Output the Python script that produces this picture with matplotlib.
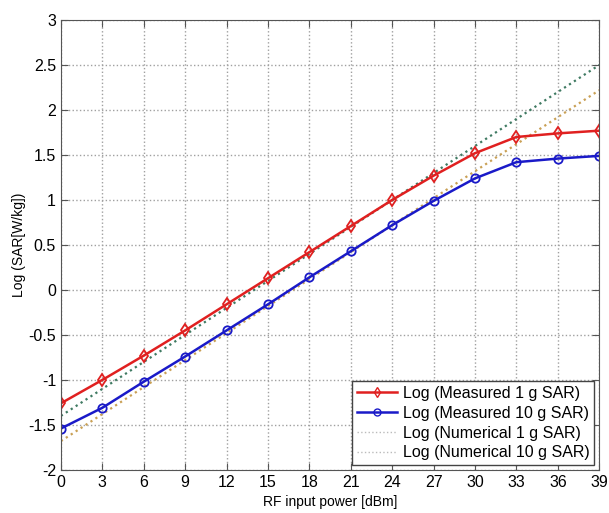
import matplotlib
matplotlib.use("Agg")
import matplotlib.pyplot as plt
from matplotlib.lines import Line2D

plt.rcParams['font.family'] = ['Liberation Sans', 'DejaVu Sans']

power = [0, 3, 6, 9, 12, 15, 18, 21, 24, 27, 30, 33, 36, 39]
meas_1g = [-1.26, -1.00, -0.73, -0.45, -0.16, 0.13, 0.42, 0.71, 1.00, 1.27, 1.52, 1.70, 1.74, 1.77]
meas_10g = [-1.54, -1.31, -1.02, -0.74, -0.45, -0.16, 0.14, 0.43, 0.72, 0.99, 1.24, 1.42, 1.46, 1.49]
num_1g = [-1.40, -1.10, -0.80, -0.50, -0.20, 0.10, 0.40, 0.70, 1.00, 1.30, 1.60, 1.90, 2.20, 2.50]
num_10g = [-1.68, -1.38, -1.08, -0.78, -0.48, -0.18, 0.12, 0.42, 0.72, 1.02, 1.32, 1.62, 1.92, 2.22]

fig = plt.figure(figsize=(6.09, 5.13), dpi=100)
ax = fig.add_axes([0.1, 0.084, 0.884, 0.877])

ax.plot(power, num_1g, ':', color='#3f7a62', lw=1.6)
ax.plot(power, num_10g, ':', color='#c9a055', lw=1.6)
ax.plot(power, meas_1g, '-', color='#e02020', lw=1.8, marker='d', ms=6,
        mfc='none', mec='#e02020', mew=1.3)
ax.plot(power, meas_10g, '-', color='#1a1ac8', lw=1.8, marker='o', ms=6,
        mfc='none', mec='#1a1ac8', mew=1.3)

ax.set_xlim(0, 39)
ax.set_ylim(-2, 3)
ax.set_xticks(power)
ax.set_yticks([-2, -1.5, -1, -0.5, 0, 0.5, 1, 1.5, 2, 2.5, 3])
ax.set_yticklabels(['-2', '-1.5', '-1', '-0.5', '0', '0.5', '1', '1.5', '2', '2.5', '3'])
ax.grid(True, linestyle=':', color='#a0a0a0', lw=1)
ax.tick_params(direction='in', top=True, right=True, labelsize=11.5, length=5,
               color='#555555')
for s in ax.spines.values():
    s.set_color('#555555')
ax.set_xlabel('RF input power [dBm]', fontsize=10, labelpad=4)
ax.set_ylabel('Log (SAR[W/kg])', fontsize=10, labelpad=2)

handles = [
    Line2D([], [], color='#e02020', lw=1.8, marker='d', ms=5, mfc='none', mec='#e02020'),
    Line2D([], [], color='#1a1ac8', lw=1.8, marker='o', ms=5, mfc='none', mec='#1a1ac8'),
    Line2D([], [], color='#bbbbbb', lw=1, ls=':'),
    Line2D([], [], color='#bbbbbb', lw=1, ls=':'),
]
labels = ['Log (Measured 1 g SAR)', 'Log (Measured 10 g SAR)',
          'Log (Numerical 1 g SAR)', 'Log (Numerical 10 g SAR)']
leg = ax.legend(handles, labels, loc='lower right', fontsize=11.5, fancybox=False,
                framealpha=1, edgecolor='#444444', borderaxespad=0.3,
                handlelength=2.5, labelspacing=0.3, borderpad=0.3, handletextpad=0.4)
leg.get_frame().set_linewidth(1)

fig.savefig('out.png', dpi=100)
